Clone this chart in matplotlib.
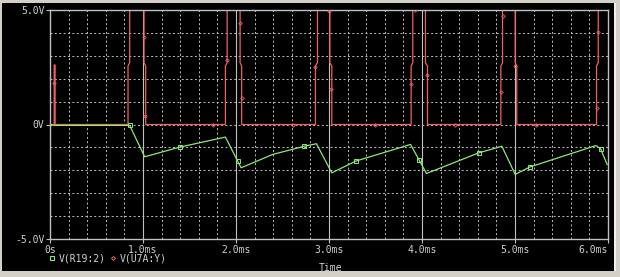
import matplotlib
matplotlib.use("Agg")
import matplotlib.pyplot as plt
from matplotlib.lines import Line2D
from matplotlib.patches import Rectangle

# traces (time in ms, volts)
red_t = [0, 0.045, 0.045, 0.055, 0.055,
         0.839, 0.839, 0.857, 0.857, 1.011, 1.011, 1.029, 1.029,
         1.886, 1.886, 1.905, 1.905, 2.044, 2.044, 2.061, 2.061,
         2.854, 2.854, 2.876, 2.876, 3.009, 3.009, 3.030, 3.030,
         3.883, 3.883, 3.901, 3.901, 4.037, 4.037, 4.059, 4.059,
         4.848, 4.848, 4.866, 4.866, 5.002, 5.002, 5.019, 5.019,
         5.877, 5.877, 5.895, 5.895, 6.0]
red_v = [0, 0, 2.6, 2.6, 0,
         0, 2.55, 2.7, 5, 5, 2.7, 2.55, 0,
         0, 2.55, 2.7, 5, 5, 2.7, 2.55, 0,
         0, 2.55, 2.7, 5, 5, 2.7, 2.55, 0,
         0, 2.55, 2.7, 5, 5, 2.7, 2.55, 0,
         0, 2.55, 2.7, 5, 5, 2.7, 2.55, 0,
         0, 2.55, 2.7, 5, 5]
red_mark_t = [0.046, 1.011, 1.021, 1.758, 1.905, 2.044, 2.061, 2.618, 2.854, 3.001,
              3.022, 3.491, 3.883, 3.930, 4.059, 4.359, 4.848, 4.866, 5.002, 5.223,
              5.877, 5.895]
red_mark_v = [1.83, 3.80, 0.39, 0, 2.81, 4.45, 1.14, 0, 2.49, 4.95,
              1.53, 0, 1.79, 5.0, 2.14, 0, 1.44, 4.72, 2.55, 0,
              0.74, 4.06]

green_t = [0, 0.05, 0.50, 0.857, 1.018, 1.393, 1.886, 2.018, 2.055, 2.393, 2.733,
           2.865, 3.030, 3.287, 3.877, 3.966, 4.048, 4.609, 4.859, 5.002, 5.163,
           5.870, 5.920, 5.991]
green_v = [0, -0.04, -0.04, -0.04, -1.41, -0.99, -0.55, -1.60, -1.89, -1.31, -0.95,
           -0.84, -2.11, -1.60, -0.87, -1.53, -2.14, -1.24, -0.95, -2.18, -1.85,
           -0.92, -1.06, -1.75]
green_mark_t = [0.857, 1.393, 2.018, 2.733, 3.287, 3.966, 4.609, 5.163, 5.920]
green_mark_v = [0.0, -0.99, -1.60, -0.95, -1.60, -1.53, -1.24, -1.85, -1.06]

x_major = [0, 1, 2, 3, 4, 5, 6]
x_labels = ["0s", "1.0ms", "2.0ms", "3.0ms", "4.0ms", "5.0ms", "6.0ms"]
x_minor = [i * 0.2 for i in range(31)]
y_ticks = [-5, 0, 5]
y_labels = ["-5.0V", "0V", "5.0V"]
y_grid = [-4, -3, -2, -1, 0, 1, 2, 3, 4]

RED = "#f06060"
GREEN = "#8ee87a"
GRAY = "#c0c0c0"
TXT = "#d0d0d0"
W, H = 620, 277

plt.rcParams["font.family"] = "DejaVu Sans Mono"
plt.rcParams["font.size"] = 7

fig = plt.figure(figsize=(W / 100, H / 100), dpi=100, facecolor="#d4d0c8")
# black window panel behind everything
fig.patches.append(Rectangle((2 / W, 1 - 271 / H), 612 / W, 268 / H,
                             transform=fig.transFigure, facecolor="black",
                             edgecolor="none", zorder=-5))
fig.patches.append(Rectangle((614 / W, 1 - 271 / H), 1.5 / W, 268 / H,
                             transform=fig.transFigure, facecolor="#f0f0f0",
                             edgecolor="none", zorder=-5))

ax = fig.add_axes([50 / W, 1 - 239 / H, 558 / W, 229 / H])
ax.set_facecolor("black")
ax.set_xlim(0, 6)
ax.set_ylim(-5, 5)

# grid
for x in x_minor:
    if abs(x - round(x)) > 1e-6:
        ax.axvline(x, color=GRAY, lw=0.7, ls=(0, (2, 2.5)), zorder=1)
for x in x_major[1:-1]:
    ax.axvline(x, color=GRAY, lw=0.8, zorder=1)
for y in y_grid:
    ax.axhline(y, color=GRAY, lw=0.7, ls=(0, (2, 2.5)), zorder=1)

ax.plot(green_t, green_v, color=GREEN, lw=0.9, zorder=3)
ax.plot(red_t, red_v, color=RED, lw=0.9, zorder=2)
ax.plot(green_mark_t, green_mark_v, ls="none", marker="s", ms=2.5,
        mfc="none", mec=GREEN, mew=0.7, zorder=4)
ax.plot(red_mark_t, red_mark_v, ls="none", marker="D", ms=1.8,
        mfc="none", mec=RED, mew=0.6, zorder=4)

for s in ax.spines.values():
    s.set_color(GRAY)
    s.set_linewidth(1)

ax.set_xticks(x_major)
ax.set_xticklabels(x_labels)
ax.get_xticklabels()[-1].set_horizontalalignment("right")
ax.set_yticks(y_ticks)
ax.set_yticklabels(y_labels)
ax.tick_params(colors=GRAY, labelcolor=TXT, length=3, width=0.8, pad=1)

fig.text(330 / W, 1 - 268 / H, "Time", color=TXT, ha="center", va="center")

handles = [Line2D([], [], ls="none", marker="s", ms=2.5, mfc="none", mec=GREEN, mew=0.8),
           Line2D([], [], ls="none", marker="D", ms=2, mfc="none", mec=RED, mew=0.7)]
leg = fig.legend(handles, ["V(R19:2)", "V(U7A:Y)"], loc="center left",
                 bbox_to_anchor=(48 / W, 1 - 258.5 / H), ncol=2, frameon=False,
                 handlelength=0.8, handletextpad=0.3, columnspacing=0.3,
                 borderpad=0, borderaxespad=0)
for t in leg.get_texts():
    t.set_color(TXT)

fig.savefig("out.png", dpi=100, facecolor=fig.get_facecolor())
